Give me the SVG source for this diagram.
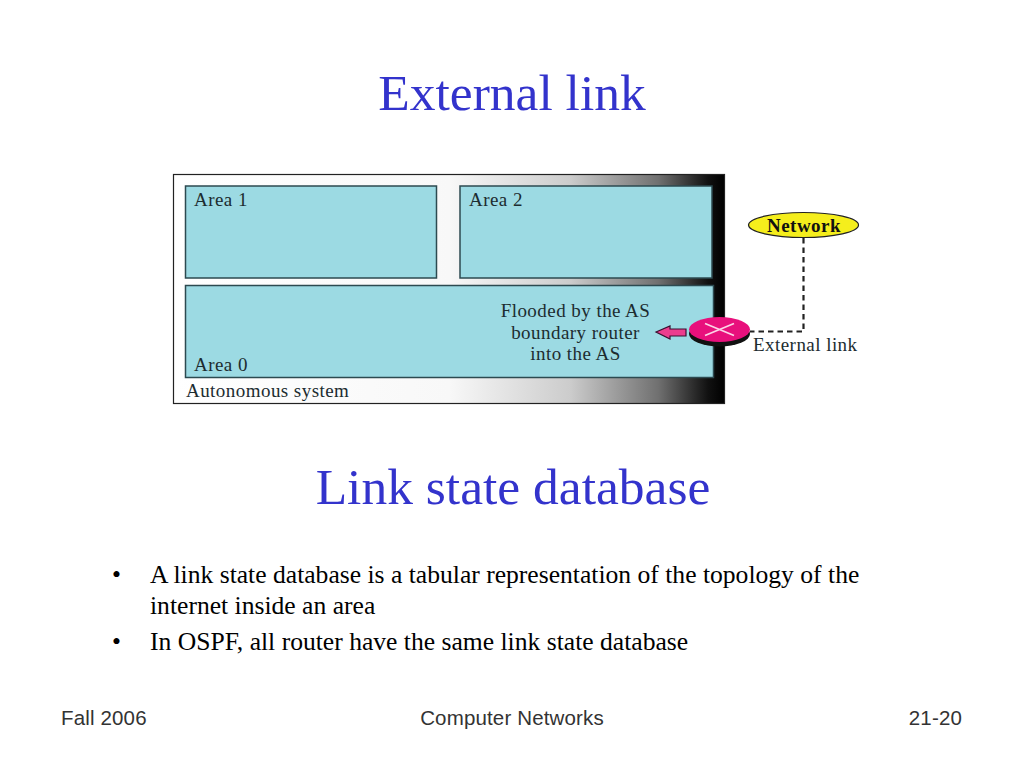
<svg xmlns="http://www.w3.org/2000/svg" width="1024" height="768" viewBox="0 0 1024 768">
<style>
.t{font-family:"Liberation Serif","Times New Roman",serif}
.h{font-size:51.500px;fill:#3333cc;text-anchor:middle}
.b{font-size:25.600px;fill:#000}
.f{font-family:"Liberation Sans",Arial,sans-serif;font-size:20.500px;letter-spacing:0.150px;fill:#333}
.d{font-family:"Liberation Serif","Times New Roman",serif;font-size:19px;letter-spacing:0.450px;fill:#1c2c30}
.area{fill:#9cdae3;stroke:#2c4a50;stroke-width:1.5}
</style>
<defs>
<linearGradient id="g" x1="0" x2="1" y1="0" y2="0">
<stop offset="0" stop-color="#ffffff"/>
<stop offset="0.5" stop-color="#f8f8f8"/>
<stop offset="0.72" stop-color="#cccccc"/>
<stop offset="0.88" stop-color="#707070"/>
<stop offset="0.97" stop-color="#111111"/>
<stop offset="1" stop-color="#000000"/>
</linearGradient>
</defs>
<rect width="1024" height="768" fill="#fff"/>
<text class="t h" x="512" y="110">External link</text>
<g id="as">
<rect x="173.500" y="174.500" width="551" height="229" fill="url(#g)" stroke="#222" stroke-width="1.200"/>
<text class="d" x="186" y="397">Autonomous system</text>
</g>
<g id="area1"><rect class="area" x="185.500" y="186" width="251" height="92"/><text class="d" x="194" y="206">Area 1</text></g>
<g id="area2"><rect class="area" x="460" y="186" width="252" height="92"/><text class="d" x="469" y="206">Area 2</text></g>
<g id="area0"><rect class="area" x="185.500" y="285.500" width="528" height="92"/><text class="d" x="194" y="371">Area 0</text>
<text class="d" text-anchor="middle"><tspan x="575.500" y="317">Flooded by the AS</tspan><tspan x="575.500" y="339">boundary router</tspan><tspan x="575.500" y="360">into the AS</tspan></text></g>
<g id="connectors">
<path d="M803.500 238V331.500H750" fill="none" stroke="#222" stroke-width="2.200" stroke-dasharray="5.500 4"/>
<polygon points="656,332 670,326 670,329 686,329 686,336 670,336 670,339" fill="#ec3d8e" stroke="#3a1030" stroke-width="1.200"/>
</g>
<g id="network"><ellipse cx="803.500" cy="225" rx="55" ry="12.500" fill="#f5ee1c" stroke="#222" stroke-width="1.200"/><text class="d" x="804" y="231.500" text-anchor="middle" font-weight="bold" style="fill:#111">Network</text></g>
<g id="router">
<ellipse cx="719.500" cy="334" rx="30.500" ry="12.500" fill="#111"/>
<ellipse cx="719.500" cy="329.500" rx="30.500" ry="12.500" fill="#e8107c"/>
<path d="M705 323.500L734 335.500M705 335.500L734 323.500" stroke="#fbd4e6" stroke-width="1.800"/>
</g>
<text class="d" x="753" y="351">External link</text>
<text class="t h" x="513" y="503.500">Link state database</text>
<g class="t b">
<text x="112" y="583">•</text>
<text x="150" y="583">A link state database is a tabular representation of the topology of the</text>
<text x="150" y="614">internet inside an area</text>
<text x="112" y="650">•</text>
<text x="150" y="650">In OSPF, all router have the same link state database</text>
</g>
<text class="f" x="61" y="725">Fall 2006</text>
<text class="f" x="512" y="725" text-anchor="middle">Computer Networks</text>
<text class="f" x="962" y="725" text-anchor="end">21-20</text>
</svg>
